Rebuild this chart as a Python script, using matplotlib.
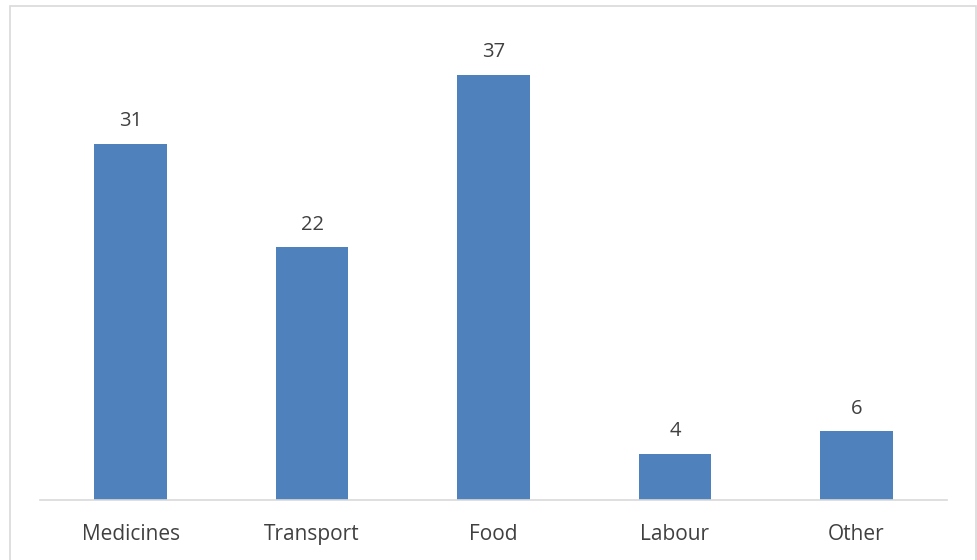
import matplotlib.pyplot as plt
from matplotlib.patches import Rectangle

plt.rcParams['font.family'] = ['Open Sans', 'DejaVu Sans']

categories = ['Medicines', 'Transport', 'Food', 'Labour', 'Other']
values = [31, 22, 37, 4, 6]

W, H = 978, 560
fig = plt.figure(figsize=(W / 100, H / 100), dpi=100)
ax = fig.add_axes([40 / W, 60 / H, 907 / W, 460 / H])

text_color = '#404040'
bars = ax.bar(range(len(categories)), values, width=0.4, color='#4F81BD')

for b, v in zip(bars, values):
    ax.annotate(str(v), (b.get_x() + b.get_width() / 2, v), xytext=(0, 9),
                textcoords='offset points', ha='center', va='bottom',
                fontsize=14.5, color=text_color)

ax.set_xlim(-0.5, len(categories) - 0.5)
ax.set_ylim(0, 40)
ax.set_xticks(range(len(categories)))
ax.set_xticklabels(categories, fontsize=15, color=text_color)
ax.tick_params(axis='x', length=0, pad=17)
ax.set_yticks([])
for s in ['top', 'right', 'left']:
    ax.spines[s].set_visible(False)
ax.spines['bottom'].set_color('#D9D9D9')
ax.spines['bottom'].set_linewidth(1.2)

# outer chart frame
fig.patches.append(Rectangle((10 / W, -0.05), 966 / W, (H - 6) / H + 0.05,
                             transform=fig.transFigure, fill=False,
                             edgecolor='#D9D9D9', linewidth=1.2))

fig.savefig('out.png', dpi=100)
